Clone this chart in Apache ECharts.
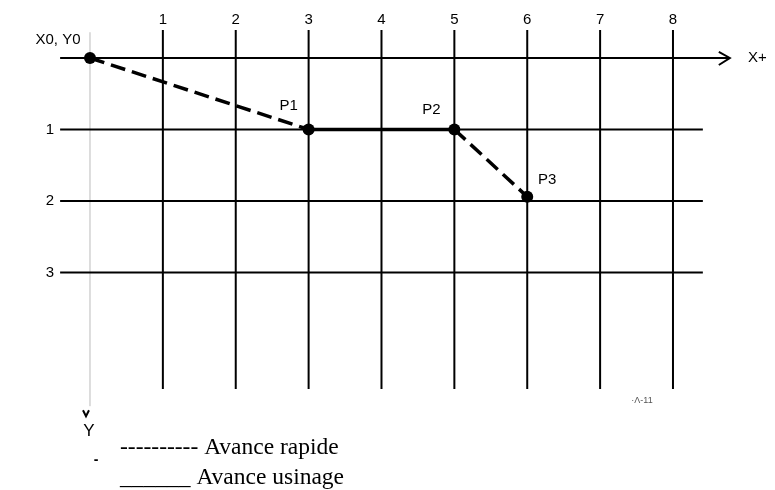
<!DOCTYPE html>
<html>
<head>
<meta charset="utf-8">
<script src="https://cdn.jsdelivr.net/npm/echarts@6/dist/echarts.min.js"></script>
<style>
  html, body { margin: 0; padding: 0; background: #fff; }
  #chart { width: 775px; height: 490px; }
</style>
</head>
<body>
<div id="chart"></div>
<script>
// grid of the drawing
const xTicks = [1, 2, 3, 4, 5, 6, 7, 8];
const yTicks = [0, 1, 2, 3];
const yTickLabels = ['', '1', '2', '3'];

// tool path: origin, then P1, P2, P3
const pathNames = ['X0, Y0', 'P1', 'P2', 'P3'];
const pathX = [0, 3, 5, 6];
const pathY = [0, 1, 1, 1.94];
const segmentKinds = ['rapide', 'usinage', 'rapide'];

const legendLines = ['---------- Avance rapide', '______ Avance usinage'];

const sans = 'Liberation Sans';
const serif = 'Liberation Serif';

// how far the drawn lines run (axis units)
const vTop = -0.39, vBottom = 4.63;
const hLeft = -0.41, hRight = 8.41, hArrow = 8.78;
const axisTop = -0.36, axisBottom = 4.87;

const chart = echarts.init(document.getElementById('chart'));

function renderVertical(params, api) {
  const x = api.value(0);
  const a = api.coord([x, vTop]);
  const b = api.coord([x, vBottom]);
  return {
    type: 'group',
    children: [
      { type: 'line', shape: { x1: a[0], y1: a[1], x2: b[0], y2: b[1] }, style: { stroke: '#000', lineWidth: 2 } },
      { type: 'text', x: a[0], y: a[1] - 10,
        style: { text: String(x), font: '15px ' + sans, fill: '#000', align: 'center', verticalAlign: 'middle' } }
    ]
  };
}

function renderHorizontal(params, api) {
  const y = api.value(0);
  const i = params.dataIndex;
  const a = api.coord([hLeft, y]);
  const b = api.coord([y === 0 ? hArrow : hRight, y]);
  const children = [
    { type: 'line', shape: { x1: a[0], y1: a[1], x2: b[0], y2: b[1] }, style: { stroke: '#000', lineWidth: 2 } },
    { type: 'text', x: a[0] - 6, y: a[1],
      style: { text: yTickLabels[i], font: '15px ' + sans, fill: '#000', align: 'right', verticalAlign: 'middle' } }
  ];
  if (y === 0) {
    children.push({
      type: 'polyline',
      shape: { points: [[b[0] - 11, b[1] - 6], [b[0], b[1]], [b[0] - 11, b[1] + 7]] },
      style: { stroke: '#000', lineWidth: 2, fill: null }
    });
  }
  return { type: 'group', children: children };
}

function renderYAxis(params, api) {
  const a = api.coord([0, axisTop]);
  const b = api.coord([0, axisBottom]);
  return {
    type: 'group',
    children: [
      { type: 'line', shape: { x1: a[0], y1: a[1], x2: b[0], y2: b[1] }, style: { stroke: '#bbb', lineWidth: 1 } },
      { type: 'polyline',
        shape: { points: [[b[0] - 7, b[1] + 4], [b[0] - 4, b[1] + 10], [b[0] - 1, b[1] + 4]] },
        style: { stroke: '#000', lineWidth: 2, fill: null } }
    ]
  };
}

const segmentSeries = segmentKinds.map((kind, i) => ({
  type: 'line',
  data: [[pathX[i], pathY[i]], [pathX[i + 1], pathY[i + 1]]],
  symbol: 'none',
  silent: true,
  lineStyle: { color: '#000', width: 3.5, type: kind === 'rapide' ? [15, 7] : 'solid' },
  z: 3
}));

const labelOffsets = [[-32, -18], [-20, -24], [-23, -20], [20, -17]];

const option = {
  animation: false,
  grid: { left: 0, top: 0, right: 0, bottom: 0 },
  xAxis: { type: 'value', min: -1.235, max: 9.4, show: false },
  yAxis: { type: 'value', min: -0.811, max: 6.042, inverse: true, show: false },
  series: [
    { type: 'custom', renderItem: renderYAxis, data: [[0]], silent: true, z: 1 },
    { type: 'custom', renderItem: renderVertical, data: xTicks.map(v => [v]), silent: true, z: 2 },
    { type: 'custom', renderItem: renderHorizontal, data: yTicks.map(v => [v]), silent: true, z: 2 },
    ...segmentSeries,
    {
      type: 'scatter',
      symbolSize: 12,
      silent: true,
      itemStyle: { color: '#000', opacity: 1 },
      data: pathNames.map((n, i) => ({ value: [pathX[i], pathY[i]], name: n, label: { offset: labelOffsets[i] } })),
      label: { show: true, position: 'inside', formatter: '{b}', color: '#000', opacity: 1,
        textBorderWidth: 0, fontFamily: sans, fontSize: 15 },
      z: 4
    }
  ],
  graphic: [
    { type: 'text', x: 748, y: 58, style: { text: 'X+', font: '15px ' + sans, fill: '#000', verticalAlign: 'middle', textVerticalAlign: 'middle' } },
    { type: 'text', x: 89, y: 431, style: { text: 'Y', font: '17px ' + sans, fill: '#000', align: 'center', textAlign: 'center', verticalAlign: 'middle', textVerticalAlign: 'middle' } },
    { type: 'text', x: 96, y: 460, style: { text: '-', font: 'bold 14px ' + sans, fill: '#000', align: 'center', textAlign: 'center', verticalAlign: 'middle', textVerticalAlign: 'middle' } },
    { type: 'text', x: 642, y: 401, style: { text: '\u00b7\u039b-11', font: '9px ' + sans, fill: '#555', align: 'center', textAlign: 'center', verticalAlign: 'middle', textVerticalAlign: 'middle' } },
    { type: 'text', x: 120, y: 448, style: { text: legendLines[0], font: '23.5px ' + serif, fill: '#000', verticalAlign: 'middle', textVerticalAlign: 'middle' } },
    { type: 'text', x: 120, y: 478, style: { text: legendLines[1], font: '23.5px ' + serif, fill: '#000', verticalAlign: 'middle', textVerticalAlign: 'middle' } }
  ]
};

chart.setOption(option);
</script>
</body>
</html>
